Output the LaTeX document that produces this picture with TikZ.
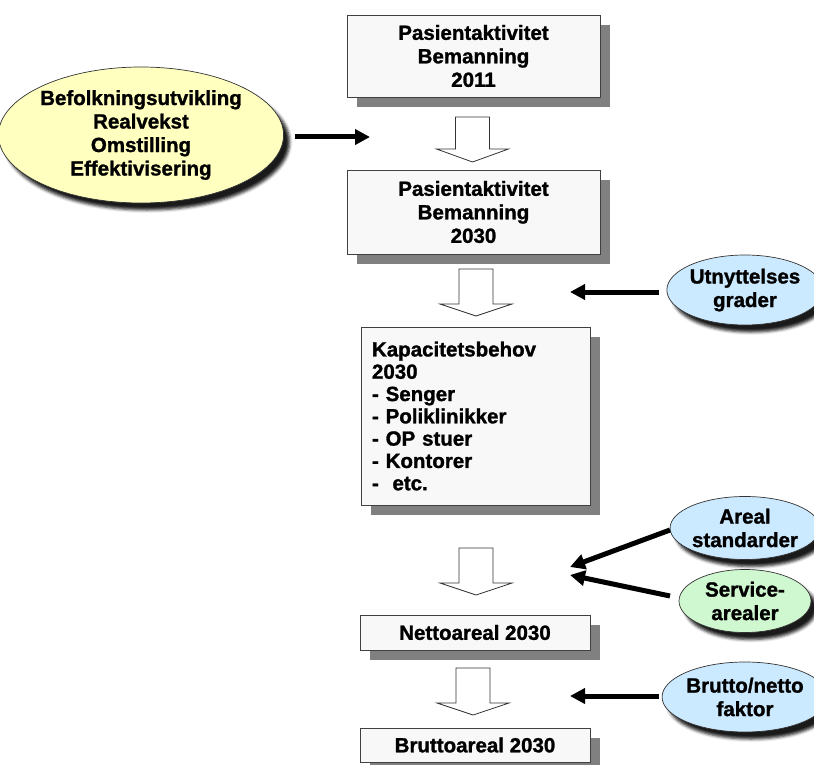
\documentclass[tikz,border=0pt]{standalone}
\usepackage{fontspec}
\setmainfont{Liberation Sans}[BoldFeatures={FakeBold=1.3}]
\usetikzlibrary{shapes.geometric,shadows,shadows.blur,arrows.meta}
\definecolor{shadowgray}{RGB}{128,128,128}
\definecolor{ellyellow}{RGB}{255,255,192}
\definecolor{ellblue}{RGB}{204,234,255}
\definecolor{ellgreen}{RGB}{208,248,208}
\definecolor{boxfill}{RGB}{248,248,248}
\newcommand\hollowarr[4]{% cx, top, headstart, tip
  \draw[hollow] (#1-17,#2) -- (#1+17,#2) -- (#1+17,#3) -- (#1+36,#3)
    -- (#1,#4) -- (#1-36,#3) -- (#1-17,#3) -- cycle;}
\begin{document}
\begin{tikzpicture}[x=1pt,y=-1pt,
  txt/.style={font=\bfseries\fontsize{20.5}{23.5}\selectfont},
  box/.style={txt, draw=black!75, line width=0.8pt, fill=boxfill, align=center,
    inner sep=0pt,
    drop shadow={shadow xshift=10pt, shadow yshift=-10pt, fill=shadowgray, opacity=1}},
  ell/.style={txt, ellipse, draw=black!80, line width=0.7pt, align=center, inner sep=0pt,
    blur shadow={shadow xshift=6pt, shadow yshift=-7pt, shadow blur radius=3pt, shadow opacity=90}},
  hollow/.style={draw=black!80, line width=0.8pt, fill=white, line join=miter},
  push/.style={line width=5pt, -{Triangle[length=15pt,width=15pt]}}
]
\useasboundingbox (0,0) rectangle (814,765);

% boxes
\node[box, minimum width=253pt, minimum height=82pt] (b1) at (473.5,56)
  {Pasientaktivitet\\Bemanning\\2011};
\node[box, minimum width=253pt, minimum height=84pt] (b2) at (473.5,212)
  {Pasientaktivitet\\Bemanning\\2030};
\node[box, minimum width=229pt, minimum height=178pt, text width=207pt, align=left,
  inner xsep=11pt, font=\bfseries\fontsize{20.5}{22.3}\selectfont] (b3) at (475.5,416)
  {Kapacitetsbehov\\2030\\- Senger\\- Poliklinikker\\- OP stuer\\- Kontorer\\-\ \ etc.};
\node[box, minimum width=230pt, minimum height=35pt] (b4) at (475,632.5) {Nettoareal 2030};
\node[box, minimum width=230pt, minimum height=34pt] (b5) at (475,745) {Bruttoareal 2030};

% ellipses
\node[ell, fill=ellyellow, minimum width=262pt, minimum height=136pt] (e1) at (141,135)
  {Befolkningsutvikling\\Realvekst\\Omstilling\\Effektivisering};
\node[ell, fill=ellblue, minimum width=132pt, minimum height=70pt] (e2) at (745,290)
  {Utnyttelses\\grader};
\node[ell, fill=ellblue, minimum width=132pt, minimum height=63pt] (e3) at (745,528)
  {Areal\\standarder};
\node[ell, fill=ellgreen, minimum width=132pt, minimum height=63pt] (e4) at (745,601)
  {Service-\\arealer};
\node[ell, fill=ellblue, minimum width=132pt, minimum height=70pt] (e5) at (745,697)
  {Brutto/netto\\faktor};

% hollow arrows between boxes
\hollowarr{472.5}{117}{149}{162}
\hollowarr{476}{269}{304}{316}
\hollowarr{476}{548}{583}{595}
\hollowarr{473}{668}{703}{715}

% black arrows
\coordinate (a1s) at (295,137); \coordinate (a1e) at (370,137);
\coordinate (a2s) at (659,292); \coordinate (a2e) at (570,292);
\coordinate (a3s) at (670,530); \coordinate (a3e) at (570,567);
\coordinate (a4s) at (670,596); \coordinate (a4e) at (570,575);
\coordinate (a5s) at (659,696); \coordinate (a5e) at (570,696);
\draw[push] (a1s) -- (a1e);
\draw[push] (a2s) -- (a2e);
\draw[push] (a3s) -- (a3e);
\draw[push] (a4s) -- (a4e);
\draw[push] (a5s) -- (a5e);
\end{tikzpicture}
\end{document}
